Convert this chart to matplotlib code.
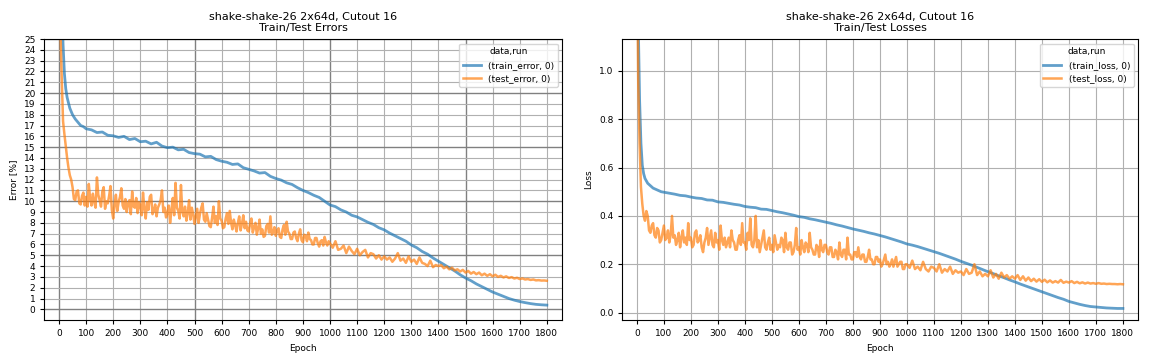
import numpy as np
import matplotlib
matplotlib.use("Agg")
import matplotlib.pyplot as plt
from matplotlib.ticker import MultipleLocator

plt.rcParams['font.family'] = ['DejaVu Sans']

# ======
# [Data]
# ======

# train curves: denser at the start, then every 20 epochs
train_epochs = [0, 5, 10, 15, 20, 25, 30, 40, 50, 60, 70, 80, 90, 100] + list(range(120, 1801, 20))
# test curves: every 5 epochs up to 1000, then every 10
test_epochs = list(range(0, 1000, 5)) + list(range(1000, 1801, 10))

train_error = [
    80.0, 40.0, 29.0, 24.5, 21.8, 20.4, 19.6, 18.6, 18.0, 17.6, 17.3, 17.0, 16.9, 16.7,
    16.6, 16.35, 16.4, 16.1, 16.05,
    15.9, 16.0, 15.7, 15.8, 15.5,
    15.55, 15.3, 15.45, 15.1, 14.95,
    15.0, 14.75, 14.8, 14.5, 14.4,
    14.35, 14.1, 14.15, 13.85, 13.7,
    13.6, 13.4, 13.45, 13.1, 12.95,
    12.8, 12.6, 12.65, 12.3, 12.1,
    11.95, 11.7, 11.55, 11.25, 11.0,
    10.8, 10.55, 10.35, 10.0, 9.65,
    9.5, 9.2, 9.0, 8.7, 8.55,
    8.3, 8.05, 7.85, 7.55, 7.35,
    7.05, 6.8, 6.55, 6.3, 5.95,
    5.7, 5.35, 5.1, 4.75, 4.45,
    4.15, 3.85, 3.55, 3.2, 2.9,
    2.65, 2.35, 2.1, 1.85, 1.6,
    1.4, 1.2, 1.0, 0.85, 0.72,
    0.62, 0.53, 0.46, 0.42, 0.39,
]

test_error = [
    # 0 - 995, step 5
    48.0, 26.0, 21.5, 17.4, 16.2, 15.1, 14.0, 13.1, 12.4, 12.0, 11.3, 10.2, 10.1, 10.9, 11.0, 9.8, 9.7, 10.5, 10.8, 9.6,
    10.4, 9.5, 11.6, 10.2, 9.6, 10.7, 9.9, 9.4, 12.2, 10.6, 10.1, 9.5, 10.9, 11.3, 9.3, 10.0, 9.8, 10.5, 11.4, 9.2,
    8.4, 9.7, 10.6, 9.1, 9.9, 10.4, 11.2, 9.6, 9.3, 10.2, 9.0, 9.8, 10.1, 8.8, 10.9, 9.5, 9.4, 10.3, 8.9, 9.9,
    9.6, 8.7, 10.8, 9.3, 8.4, 9.9, 9.2, 10.4, 10.6, 8.8, 9.1, 9.7, 8.6, 9.4, 9.7, 10.1, 11.0, 9.0, 9.4, 8.5,
    8.9, 9.6, 8.0, 9.2, 10.3, 8.7, 11.7, 9.4, 9.1, 8.4, 11.5, 9.0, 8.6, 9.5, 8.2, 8.9, 10.1, 8.3, 9.4, 8.8,
    7.9, 8.6, 9.3, 8.0, 8.8, 9.4, 9.8, 8.3, 8.1, 8.9, 8.3, 7.7, 7.6, 8.5, 9.5, 8.0, 8.6, 7.8, 10.0, 8.4,
    8.2, 7.5, 7.6, 8.4, 8.9, 7.9, 9.1, 8.0, 7.4, 8.3, 7.8, 7.2, 8.0, 8.6, 7.3, 7.9, 8.7, 7.5, 8.1, 7.3,
    7.2, 7.9, 8.4, 7.1, 7.6, 8.0, 6.9, 7.5, 8.3, 7.0, 7.4, 6.7, 6.8, 7.7, 7.9, 7.1, 8.6, 6.9, 7.1, 7.6,
    6.8, 7.3, 7.5, 6.7, 6.6, 7.4, 7.8, 6.9, 8.1, 7.2, 7.0, 6.5, 6.5, 7.1, 7.2, 6.6, 6.3, 7.0, 7.4, 6.4,
    6.2, 6.9, 6.8, 6.3, 7.1, 6.5, 6.4, 6.0, 6.0, 6.6, 6.6, 6.1, 5.8, 6.3, 6.4, 5.9, 6.7, 6.2, 5.9, 6.3,
    # 1000 - 1800, step 10
    6.1, 5.7, 6.3, 5.5, 5.6, 5.9, 5.2, 5.8, 5.4, 5.1,
    5.6, 5.0, 5.3, 5.5, 4.8, 5.2, 5.1, 4.7, 5.0, 4.6,
    4.9, 4.6, 4.8, 4.4, 4.7, 5.2, 4.5, 4.7, 4.3, 4.9,
    4.4, 4.6, 4.2, 4.8, 4.3, 4.2, 4.0, 4.5, 3.9, 4.1,
    4.0, 4.1, 3.8, 3.95, 3.7, 3.85, 3.6, 3.7, 3.5, 3.65,
    3.4, 3.55, 3.3, 3.45, 3.25, 3.4, 3.15, 3.3, 3.1, 3.25,
    3.05, 3.2, 3.0, 3.1, 2.95, 3.05, 2.9, 2.98, 2.85, 2.92,
    2.8, 2.86, 2.76, 2.8, 2.72, 2.76, 2.68, 2.7, 2.66, 2.67,
    2.64,
]

train_loss = [
    2.2, 1.2, 0.88, 0.70, 0.61, 0.575, 0.555, 0.535, 0.525, 0.515, 0.51, 0.505, 0.50, 0.498,
    0.494, 0.49, 0.485, 0.483, 0.478,
    0.474, 0.472, 0.466, 0.465, 0.458,
    0.456, 0.452, 0.448, 0.445, 0.439,
    0.436, 0.434, 0.428, 0.427, 0.422,
    0.417, 0.413, 0.408, 0.403, 0.397,
    0.394, 0.388, 0.384, 0.379, 0.374,
    0.369, 0.363, 0.358, 0.352, 0.346,
    0.341, 0.336, 0.33, 0.325, 0.319,
    0.313, 0.306, 0.299, 0.292, 0.284,
    0.279, 0.273, 0.266, 0.259, 0.252,
    0.245, 0.237, 0.229, 0.221, 0.212,
    0.204, 0.196, 0.187, 0.178, 0.169,
    0.161, 0.152, 0.144, 0.135, 0.127,
    0.118, 0.11, 0.102, 0.094, 0.086,
    0.078, 0.07, 0.062, 0.055, 0.046,
    0.04, 0.034, 0.029, 0.025, 0.023,
    0.021, 0.019, 0.018, 0.017, 0.017,
]

test_loss = [
    # 0 - 995, step 5
    1.60, 0.95, 0.70, 0.52, 0.45, 0.40, 0.38, 0.42, 0.40, 0.34, 0.33, 0.36, 0.37, 0.32, 0.31, 0.35, 0.34, 0.29, 0.30, 0.33,
    0.36, 0.30, 0.31, 0.34, 0.29, 0.32, 0.40, 0.31, 0.32, 0.28, 0.30, 0.33, 0.27, 0.31, 0.34, 0.29, 0.31, 0.28, 0.37, 0.30,
    0.31, 0.27, 0.28, 0.33, 0.34, 0.29, 0.30, 0.32, 0.27, 0.25, 0.29, 0.31, 0.35, 0.28, 0.31, 0.34, 0.28, 0.27, 0.33, 0.29,
    0.30, 0.26, 0.36, 0.30, 0.28, 0.31, 0.27, 0.29, 0.31, 0.27, 0.34, 0.30, 0.29, 0.26, 0.26, 0.30, 0.32, 0.28, 0.37, 0.29,
    0.29, 0.26, 0.33, 0.30, 0.39, 0.28, 0.27, 0.30, 0.40, 0.27, 0.30, 0.25, 0.28, 0.31, 0.34, 0.27, 0.26, 0.29, 0.31, 0.26,
    0.28, 0.25, 0.32, 0.29, 0.26, 0.28, 0.27, 0.31, 0.30, 0.25, 0.33, 0.27, 0.26, 0.29, 0.29, 0.24, 0.25, 0.28, 0.35, 0.26,
    0.27, 0.24, 0.30, 0.27, 0.25, 0.29, 0.28, 0.25, 0.33, 0.27, 0.26, 0.24, 0.24, 0.28, 0.27, 0.23, 0.30, 0.26, 0.25, 0.28,
    0.28, 0.25, 0.24, 0.27, 0.27, 0.23, 0.23, 0.26, 0.25, 0.22, 0.29, 0.24, 0.23, 0.26, 0.26, 0.22, 0.31, 0.24, 0.24, 0.22,
    0.22, 0.25, 0.25, 0.23, 0.27, 0.23, 0.22, 0.24, 0.24, 0.21, 0.21, 0.23, 0.26, 0.22, 0.22, 0.20, 0.20, 0.23, 0.23, 0.21,
    0.22, 0.19, 0.20, 0.22, 0.24, 0.20, 0.21, 0.19, 0.20, 0.22, 0.19, 0.21, 0.23, 0.19, 0.20, 0.21, 0.21, 0.18, 0.18, 0.20,
    # 1000 - 1800, step 10
    0.20, 0.185, 0.215, 0.18, 0.19, 0.175, 0.21, 0.18, 0.17, 0.19,
    0.185, 0.17, 0.20, 0.165, 0.18, 0.17, 0.19, 0.16, 0.175, 0.165,
    0.17, 0.155, 0.18, 0.16, 0.165, 0.20, 0.155, 0.17, 0.15, 0.16,
    0.15, 0.175, 0.145, 0.16, 0.14, 0.165, 0.145, 0.155, 0.14, 0.15,
    0.14, 0.155, 0.135, 0.15, 0.132, 0.145, 0.13, 0.14, 0.128, 0.138,
    0.127, 0.136, 0.125, 0.133, 0.124, 0.13, 0.124, 0.135, 0.123, 0.128,
    0.124, 0.13, 0.122, 0.127, 0.121, 0.125, 0.12, 0.124, 0.12, 0.122,
    0.119, 0.122, 0.119, 0.12, 0.118, 0.119, 0.118, 0.118, 0.117, 0.118,
    0.117,
]

TITLE = 'shake-shake-26 2x64d, Cutout 16'
BLUE = '#1f77b4'
ORANGE = '#ff7f0e'
FS = 6.5

# ======
# [Plot]
# ======
fig = plt.figure(figsize=(11.52, 3.6), dpi=100)
ax_err = fig.add_axes([0.0385, 0.111, 0.4496, 0.7806])
ax_loss = fig.add_axes([0.5402, 0.111, 0.4479, 0.7806])

# errors
ax_err.plot(train_epochs, train_error, color=BLUE, alpha=0.7, lw=2.0, label='(train_error, 0)')
ax_err.plot(test_epochs, test_error, color=ORANGE, alpha=0.7, lw=1.8, label='(test_error, 0)')
ax_err.set_xlim(-54, 1857)
ax_err.set_ylim(-0.99, 25)
ax_err.xaxis.set_major_locator(MultipleLocator(500))
ax_err.xaxis.set_minor_locator(MultipleLocator(100))
ax_err.yaxis.set_major_locator(MultipleLocator(5))
ax_err.yaxis.set_minor_locator(MultipleLocator(1))
ax_err.xaxis.set_minor_formatter('{x:.0f}')
ax_err.yaxis.set_minor_formatter('{x:.0f}')
ax_err.grid(which='major', color='#808080', lw=1.0)
ax_err.grid(which='minor', color='#b0b0b0', lw=0.8)
ax_err.set_ylabel('Error [%]', fontsize=FS)
ax_err.set_title(TITLE + '\nTrain/Test Errors', fontsize=8, linespacing=1.05)

# losses
ax_loss.plot(train_epochs, train_loss, color=BLUE, alpha=0.7, lw=2.0, label='(train_loss, 0)')
ax_loss.plot(test_epochs, test_loss, color=ORANGE, alpha=0.7, lw=1.8, label='(test_loss, 0)')
ax_loss.set_xlim(-54, 1857)
ax_loss.set_ylim(-0.031, 1.132)
ax_loss.xaxis.set_major_locator(MultipleLocator(100))
ax_loss.yaxis.set_major_locator(MultipleLocator(0.2))
ax_loss.grid(which='major', color='#b0b0b0', lw=0.8)
ax_loss.set_ylabel('Loss', fontsize=FS)
ax_loss.set_title(TITLE + '\nTrain/Test Losses', fontsize=8, linespacing=1.05)

for ax in (ax_err, ax_loss):
    ax.set_axisbelow(True)
    ax.set_xlabel('Epoch', fontsize=FS)
    ax.tick_params(which='both', labelsize=FS, length=3, width=0.8)
    ax.legend(title='data,run', loc='upper right', fontsize=FS, title_fontsize=FS)

fig.savefig('out.png', dpi=100)
